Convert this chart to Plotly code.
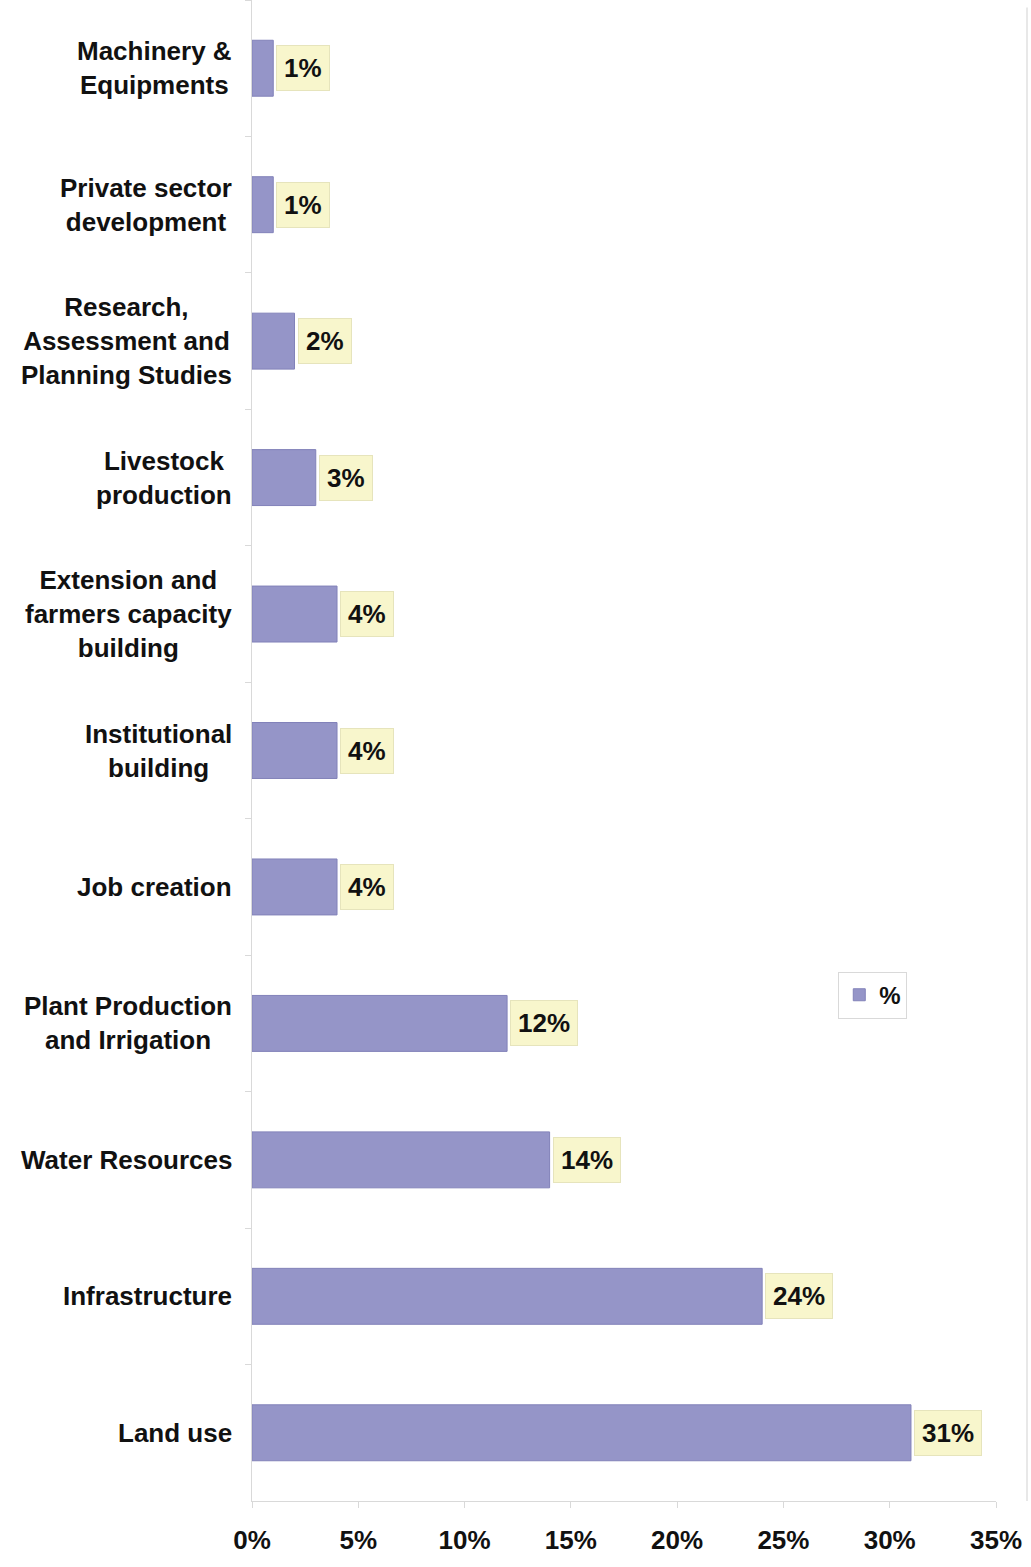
import plotly.graph_objects as go

categories = [
    "Machinery &<br>Equipments",
    "Private sector<br>development",
    "Research,<br>Assessment and<br>Planning Studies",
    "Livestock<br>production",
    "Extension and<br>farmers capacity<br>building",
    "Institutional<br>building",
    "Job creation",
    "Plant Production<br>and Irrigation",
    "Water Resources",
    "Infrastructure",
    "Land use",
]
values = [1, 1, 2, 3, 4, 4, 4, 12, 14, 24, 31]
value_labels = ["1%", "1%", "2%", "3%", "4%", "4%", "4%", "12%", "14%", "24%", "31%"]
x_ticks = [0, 5, 10, 15, 20, 25, 30, 35]
x_tick_labels = ["0%", "5%", "10%", "15%", "20%", "25%", "30%", "35%"]

FONT = "Liberation Sans"
BAR = "rgb(149,149,200)"
AXIS = "#d9d9d9"
FS = 26

fig = go.Figure()
fig.add_trace(go.Bar(
    y=categories, x=values, orientation="h", name="%",
    marker=dict(color=BAR, line=dict(color="rgb(130,130,185)", width=1)),
    showlegend=True,
))

annotations = []
for c, v, t in zip(categories, values, value_labels):
    annotations.append(dict(
        x=v, y=c, xref="x", yref="y", text="<b>" + t + "</b>",
        showarrow=False, xanchor="left", yanchor="middle", xshift=3,
        bgcolor="#f8f6cc", bordercolor="#e6e4bc", borderwidth=1, borderpad=7,
        font=dict(family=FONT, size=FS, color="#111111"),
    ))
    annotations.append(dict(
        x=0, y=c, xref="paper", yref="y", text="<b>" + c + "</b>",
        showarrow=False, xanchor="right", yanchor="middle", xshift=-18,
        align="center",
        font=dict(family=FONT, size=FS, color="#111111"),
    ))

fig.update_layout(
    width=1031, height=1567,
    margin=dict(l=252, r=35, t=0, b=66),
    paper_bgcolor="white", plot_bgcolor="white",
    bargap=0.59,
    font=dict(family=FONT, size=FS, color="#111111"),
    annotations=annotations,
    shapes=[dict(type="line", xref="paper", yref="paper",
                 x0=1.0417, x1=1.0417, y0=0, y1=0.995,
                 line=dict(color="#e8e8e8", width=2))],
    legend=dict(
        x=0.788, y=0.337, xanchor="left", yanchor="middle",
        bgcolor="white", bordercolor=AXIS, borderwidth=1,
        font=dict(family=FONT, size=24, color="#111111", weight="bold"),
        itemwidth=30,
    ),
    xaxis=dict(
        range=[0, 35], tickvals=x_ticks, ticktext=["<b>" + s + "</b>" for s in x_tick_labels],
        showgrid=False, zeroline=False, showline=True, linecolor=AXIS, linewidth=1,
        ticks="outside", tickcolor=AXIS, ticklen=6, tickfont=dict(size=FS),
        ticklabelstandoff=10,
    ),
    yaxis=dict(
        autorange="reversed", showticklabels=False, showgrid=False,
        showline=True, linecolor=AXIS, linewidth=1,
        ticks="outside", tickcolor=AXIS, ticklen=6, tickson="boundaries",
    ),
)

fig.write_html("out.html")
